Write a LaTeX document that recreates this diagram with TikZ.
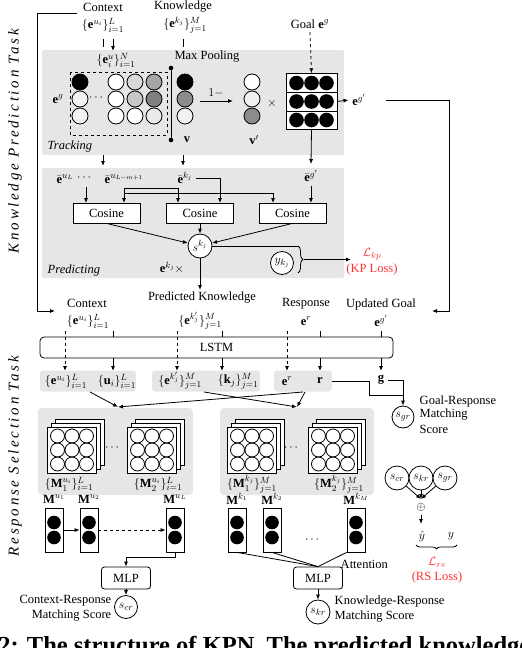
\documentclass[tikz,border=0pt]{standalone}
\usepackage{fontspec}
\setmainfont{Liberation Serif}
\newfontfamily\taskfont[LetterSpace=18]{Liberation Serif}
\usepackage{amsmath}
\usetikzlibrary{arrows.meta,decorations.pathreplacing,calc}
\definecolor{panel}{HTML}{E6E6E6}
\definecolor{lossred}{HTML}{FF3030}
\tikzset{
  stackpic/.pic={
    \foreach \off in {8,4,0} {\draw[fill=white] (-25+\off,-23-\off) rectangle (24+\off,23-\off);}
    \foreach \i in {-14.5,0,14.5} \foreach \j in {-14,0,14} {\draw (\i,\j) circle (7pt);}
  }
}
\newcommand\kpnvec[3]{%
  \node[vecbox] (#1) at (#2,530) {};
  \fill (#2,522.5) circle (6.8pt) (#2,537.5) circle (6.8pt);
  \node (#1lab) at (#2,499) {$\mathbf{M}^{#3}$};}
\begin{document}
\begin{tikzpicture}[x=1pt,y=-1pt,line width=0.8pt,
  font=\fontsize{12.5}{14}\selectfont,
  >={Latex[length=5pt,width=4pt]},
  cosbox/.style={draw, fill=white, minimum width=67pt, minimum height=20pt, inner sep=0pt},
  mlpbox/.style={draw, fill=white, rounded corners=3pt, minimum width=49pt, minimum height=22pt, inner sep=0pt},
  scorec/.style={draw, circle, fill=white, minimum size=23pt, inner sep=0pt},
  vecbox/.style={draw, fill=white, minimum width=18pt, minimum height=44pt, inner sep=0pt},
  smallpanel/.style={fill=panel, rounded corners=3pt, minimum height=21pt, inner sep=0pt},
  tasklab/.style={rotate=90, font=\fontsize{15}{17}\selectfont\taskfont\itshape},
  itl/.style={font=\fontsize{12.5}{14}\selectfont\itshape},
  losslab/.style={text=lossred}
]
\useasboundingbox (0,0) rectangle (522,648);

% ---------- panels ----------
\fill[panel,rounded corners=2pt] (42,50) rectangle (344,155);
\fill[panel,rounded corners=2pt] (42,168) rectangle (344,278);
\fill[panel,rounded corners=4pt] (38,408) rectangle (193,495);
\fill[panel,rounded corners=4pt] (220,408) rectangle (374,495);

% ---------- task labels ----------
\node[tasklab] (kpt) at (15,141) {Knowledge Prediction Task};
\node[tasklab] (rst) at (15,456) {Response Selection Task};

% ---------- top inputs ----------
\node (ctxT) at (103,7) {Context};
\node (ctxTe) at (103,25) {$\{\mathbf{e}^{u_i}\}_{i=1}^{L}$};
\node (knT) at (183,7) {Knowledge};
\node (knTe) at (185,25) {$\{\mathbf{e}^{k_j}\}_{j=1}^{M}$};
\node (goalT) at (310,24) {Goal $\mathbf{e}^{g}$};
\draw (103,39) -- (103,47);
\draw[->] (113,39) -- (113,51);
\draw (183,39) -- (183,47);
\coordinate (ctxIn) at (55,311);
\draw[->] (77,13) -- (37,13) -- (37,311) -- (ctxIn);

% ---------- tracking ----------
\node[itl, anchor=west] (trk) at (44,146) {Tracking};
\draw[dashed, line width=0.9pt] (70,72) rectangle (167,135);
\node (eun) at (116,60) {$\{\mathbf{e}_i^{u}\}_{i=1}^{N}$};
\node (egL) at (58,99) {$\mathbf{e}^{g}$};
\node (dots1) at (97,98) {$\cdots$};
\draw[fill=black] (80,82) circle (8pt);
\draw[fill=white] (116,82) circle (8pt);
\draw[fill=black!15] (135,82) circle (8pt);
\draw[fill=black!35] (154,82) circle (8pt);
\draw[fill=black!5] (80,99) circle (8pt);
\draw[fill=white] (116,99) circle (8pt);
\draw[fill=black!22] (135,99) circle (8pt);
\draw[fill=black!50] (154,99) circle (8pt);
\draw[fill=black!5] (80,116) circle (8pt);
\draw[fill=white] (116,116) circle (8pt);
\draw[fill=white] (135,116) circle (8pt);
\draw[fill=black!8] (154,116) circle (8pt);
\draw (171,68) -- (171,140);
\fill (171,68) circle (2.3pt) (171,140) circle (2.3pt);
\node (mp) at (207,57) {Max Pooling};
\draw[fill=black] (185,82) circle (8pt);
\draw[fill=black!45] (185,99) circle (8pt);
\draw[fill=black!5] (185,116) circle (8pt);
\node (vlab) at (187,140) {$\mathbf{v}$};
\draw[->] (200,101) -- (233,101);
\node (onem) at (216,93) {$1-$};
\draw[fill=white] (252,82) circle (8pt);
\draw[fill=black!6] (252,99) circle (8pt);
\draw[fill=black!45] (252,116) circle (8pt);
\node (vplab) at (254,140) {$\mathbf{v}'$};
\node (times) at (272,103) {$\times$};
\node[draw, fill=white, minimum width=51pt, minimum height=55.5pt, inner sep=0pt] (gm) at (311.5,101.5) {};
\draw (286,92) -- (337,92) (286,111) -- (337,111);
\foreach \cx in {296.5,311.5,326.5} \foreach \cy in {83,101.5,120} {\fill (\cx,\cy) circle (7.3pt);}
\draw[->, dashed] (goalT.south) -- (gm.north);
\node (eg2) at (359,100) {$\mathbf{e}^{g'}$};
\draw[->] (gm.east) -- (eg2.west);
\coordinate (ugIn) at (432,311);
\draw[->] (386,100) -- (449,100) -- (449,311) -- (ugIn);
\draw[->] (gm.south) -- (311,164);
\draw[->] (103,155) -- (103,166);
\draw[->] (183,155) -- (183,166);

% ---------- predicting ----------
\node (ebg) at (311,176) {$\bar{\mathbf{e}}^{g'}$};
\node (ebuL) at (65,179) {$\bar{\mathbf{e}}^{u_L}$};
\node (dots2) at (85,178) {$\cdots$};
\node (ebum) at (124,179) {$\bar{\mathbf{e}}^{u_{L-m+1}}$};
\node (ebk) at (185,178) {$\bar{\mathbf{e}}^{k_j}$};
\node[cosbox] (c1) at (106.5,213) {Cosine};
\node[cosbox] (c2) at (200,213) {Cosine};
\node[cosbox] (c3) at (292.5,213) {Cosine};
\draw[->] (86,187) -- (86,203);
\draw[->] (124,188) -- (124,203);
\draw[->] (124,188) -- (178,188) -- (178,203);
\draw[->] (124,193) -- (273,193) -- (273,203);
\draw[->] (ebk.east) -- (220,178) -- (220,203);
\draw[->] (ebg.south) -- (311,203);
\node[scorec, minimum size=24pt] (skj) at (200,246) {$s^{k_j}$};
\draw[->] (c1.south) -- (skj);
\draw[->] (c2.south) -- (skj.north);
\draw[->] (c3.south) -- (skj);
\node[scorec, minimum size=23pt] (ykj) at (282,263) {$y_{k_j}$};
\draw (skj.east) -- (298,246);
\draw[decorate, decoration={brace, amplitude=5pt}] (298,246) -- (298,273);
\coordinate (kpOut) at (351,259.5);
\draw[->] (304,259.5) -- (kpOut);
\node[losslab] (lkp) at (372,254) {$\mathcal{L}_{kp}$};
\node[losslab] (kploss) at (372,269) {(KP Loss)};
\node (ekx) at (172,268) {$\mathbf{e}^{k_j}\times$};
\node[itl, anchor=west] (prd) at (44,270) {Predicting};
\draw[->] (skj.south) -- (200,290);

% ---------- response selection inputs ----------
\node (pk) at (202,298) {Predicted Knowledge};
\node (ctxB) at (87,303) {Context};
\node (ctxBe) at (88,321) {$\{\mathbf{e}^{u_i}\}_{i=1}^{L}$};
\node (pke) at (200,321) {$\{\mathbf{e}^{k'_j}\}_{j=1}^{M}$};
\node (resp) at (306,304) {Response};
\node (respe) at (306,321) {$\mathbf{e}^{r}$};
\node (ug) at (381,304) {Updated Goal};
\node (uge) at (381,321) {$\mathbf{e}^{g'}$};

\node[draw, rounded corners=4pt, minimum width=353pt, minimum height=21pt, inner sep=0pt] (lstm) at (216.5,347.5) {LSTM};
\foreach \xx in {113,222,320,381} {\draw (\xx,331) -- (\xx,337); \draw[->] (\xx,358) -- (\xx,371);}
\foreach \xx in {65,177,287} {\draw[->, dashed] (\xx,331) -- (\xx,371);}

\node[smallpanel, minimum width=96pt] (b1) at (88,381) {};
\node[smallpanel, minimum width=108pt] (b2) at (206,381) {};
\node[smallpanel, minimum width=58pt] (b3) at (303,381) {};
\node (b1a) at (66,381) {$\{\mathbf{e}^{u_i}\}_{i=1}^{L}$};
\node (b1b) at (117,381) {$\{\mathbf{u}_i\}_{i=1}^{L}$};
\node (b2a) at (180,381) {$\{\mathbf{e}^{k'_j}\}_{j=1}^{M}$};
\node (b2b) at (238,381) {$\{\mathbf{k}_j\}_{j=1}^{M}$};
\node (b3a) at (287,381) {$\mathbf{e}^{r}$};
\node (b3b) at (320,381) {$\mathbf{r}$};
\node (gg) at (381,380) {$\mathbf{g}$};

\coordinate (p1in) at (118,407);
\coordinate (p2in) at (297,407);
\draw[->] (90,392) -- (p1in);
\draw[->] (303,392) -- (p1in);
\draw[->] (204,392) -- (p2in);
\draw[->] (305,392) -- (p2in);

\node[scorec, minimum size=22pt] (sgr) at (403,417) {$s_{gr}$};
\draw (332,381) -- (369,381) -- (369,395) -- (403,395);
\draw[->] (gg.east) -- (403,380) -- (sgr.north);
\node[anchor=west] (grt1) at (416,401) {Goal-Response};
\node[anchor=west] (grt2) at (416,415) {Matching};
\node[anchor=west] (grt3) at (416,429) {Score};

% ---------- matching stacks ----------
\pic at (72,450) {stackpic};
\pic at (152,450) {stackpic};
\pic at (252,450) {stackpic};
\pic at (333,450) {stackpic};
\node (d3) at (113,448) {$\cdots$};
\node (d4) at (292,448) {$\cdots$};
\node (m1u) at (69,484) {$\{\mathbf{M}_1^{u_i}\}_{i=1}^{L}$};
\node (m2u) at (158,484) {$\{\mathbf{M}_2^{u_i}\}_{i=1}^{L}$};
\node (m1k) at (252,484) {$\{\mathbf{M}_1^{k_j}\}_{j=1}^{M}$};
\node (m2k) at (339,484) {$\{\mathbf{M}_2^{k_j}\}_{j=1}^{M}$};

% ---------- vectors ----------
\kpnvec{u1}{54}{u_1}
\kpnvec{u2}{89}{u_2}
\kpnvec{uL}{175}{u_L}
\kpnvec{k1}{237}{k_1}
\kpnvec{k2}{272}{k_2}
\kpnvec{kM}{356}{k_M}
\draw[->] (u1.east) -- (u2.west);
\draw[->, dashed] (u2.east) -- (uL.west);
\node (d5) at (313,540) {$\cdots$};

\node[mlpbox] (mlp1) at (126,578) {MLP};
\draw[->] (uL.south) -- (175,557) -- (126,557) -- (mlp1.north);
\node[scorec] (scr) at (126,607) {$s_{cr}$};
\draw[->] (mlp1.south) -- (scr.north);
\node[anchor=east] (crt1) at (115,601) {Context-Response};
\node[anchor=east] (crt2) at (115,616) {Matching Score};

\node[mlpbox] (mlp2) at (318,578) {MLP};
\draw (k1.south) -- (mlp2.north);
\draw (k2.south) -- (mlp2.north);
\draw (kM.south west) -- (mlp2.north);
\node[anchor=west] (att) at (337,564) {Attention};
\node[scorec, minimum size=24pt] (skr) at (318,612) {$s_{kr}$};
\draw[->] (mlp2.south) -- (skr.north);
\node[anchor=west] (krt1) at (331,602) {Knowledge-Response};
\node[anchor=west] (krt2) at (331,617) {Matching Score};

% ---------- final scoring ----------
\node[scorec, minimum size=24pt] (scr2) at (397,478) {$s_{cr}$};
\node[scorec, minimum size=24pt] (skr2) at (421,478) {$s_{kr}$};
\node[scorec, minimum size=24pt] (sgr2) at (445,478) {$s_{gr}$};
\coordinate (mrg) at (421,499);
\draw[->] (scr2) -- (mrg);
\draw[->] (skr2) -- (mrg);
\draw[->] (sgr2) -- (mrg);
\node (oplus) at (421,507) {$\oplus$};
\draw[->] (oplus.south) -- (421,524);
\node (yhat) at (422,536) {$\hat{y}$};
\node (ytrue) at (451,536) {$y$};
\draw[decorate, decoration={brace, amplitude=4pt, mirror}] (416,545) -- (457,545);
\node[losslab] (lrs) at (437,562) {$\mathcal{L}_{rs}$};
\node[losslab] (rsloss) at (437,577) {(RS Loss)};

% ---------- caption (cut by page edge) ----------
\node[anchor=base west, font=\fontsize{24.5}{28}\selectfont\bfseries, inner sep=0pt] (cap) at (-2,653) {2: The structure of KPN. The predicted knowledge};
\end{tikzpicture}
\end{document}
